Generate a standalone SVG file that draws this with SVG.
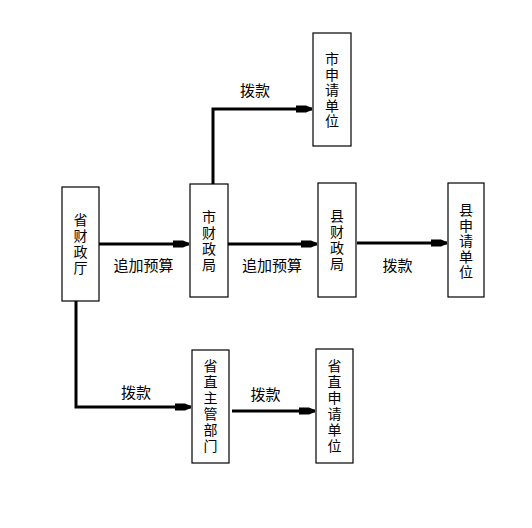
<svg xmlns="http://www.w3.org/2000/svg" width="532" height="528" viewBox="0 0 532 528">
<style>
.box{fill:#fff;stroke:#000;stroke-width:1.2}
.t{font-family:"Noto Sans CJK SC","Liberation Sans",sans-serif;font-size:15px;fill:#000;text-anchor:middle}
.v{font-family:"Noto Sans CJK SC","Liberation Sans",sans-serif;font-size:14px;fill:#000;text-anchor:middle}
.c{fill:none;stroke:#000;stroke-width:3}
</style>
<defs>
<marker id="ah" markerUnits="userSpaceOnUse" markerWidth="20" markerHeight="12" refX="16" refY="6" orient="auto" viewBox="0 0 20 12">
<path d="M0,2.5 L10,2.5 L16,5 L16,7 L10,9.5 L0,9.5 z" fill="#000"/>
</marker>
</defs>
<rect width="532" height="528" fill="#fff"/>
<g id="connectors">
<line class="c" x1="99" y1="244" x2="189" y2="244" marker-end="url(#ah)"/>
<line class="c" x1="228" y1="244" x2="317" y2="244" marker-end="url(#ah)"/>
<line class="c" x1="357" y1="243" x2="447" y2="243" marker-end="url(#ah)"/>
<polyline class="c" points="213,184 213,109 312,109" marker-end="url(#ah)"/>
<polyline class="c" points="76,301 76,407 191,407" marker-end="url(#ah)"/>
<line class="c" x1="232" y1="411" x2="315" y2="411" marker-end="url(#ah)"/>
<text class="t" x="143.5" y="271">追加预算</text>
<text class="t" x="272" y="271">追加预算</text>
<text class="t" x="255" y="96">拨款</text>
<text class="t" x="397.5" y="271">拨款</text>
<text class="t" x="136" y="398">拨款</text>
<text class="t" x="265.5" y="400">拨款</text>
</g>
<g id="n1">
<rect class="box" x="62" y="187" width="37" height="114"/>
<text class="v"><tspan x="80.5" y="225">省</tspan><tspan x="80.5" y="241">财</tspan><tspan x="80.5" y="257">政</tspan><tspan x="80.5" y="273">厅</tspan></text>
</g>
<g id="n2">
<rect class="box" x="190" y="184" width="38" height="113"/>
<text class="v"><tspan x="209" y="222">市</tspan><tspan x="209" y="238">财</tspan><tspan x="209" y="254">政</tspan><tspan x="209" y="270">局</tspan></text>
</g>
<g id="n3">
<rect class="box" x="313" y="33" width="38" height="113"/>
<text class="v"><tspan x="332" y="64">市</tspan><tspan x="332" y="79.5">申</tspan><tspan x="332" y="95">请</tspan><tspan x="332" y="110.5">单</tspan><tspan x="332" y="126">位</tspan></text>
</g>
<g id="n4">
<rect class="box" x="318" y="183" width="38" height="114"/>
<text class="v"><tspan x="337" y="221">县</tspan><tspan x="337" y="237">财</tspan><tspan x="337" y="253">政</tspan><tspan x="337" y="269">局</tspan></text>
</g>
<g id="n5">
<rect class="box" x="448" y="183" width="36" height="114"/>
<text class="v"><tspan x="466" y="215">县</tspan><tspan x="466" y="230.5">申</tspan><tspan x="466" y="246">请</tspan><tspan x="466" y="261.5">单</tspan><tspan x="466" y="277">位</tspan></text>
</g>
<g id="n6">
<rect class="box" x="192" y="350" width="37" height="113"/>
<text class="v"><tspan x="210.5" y="371">省</tspan><tspan x="210.5" y="387">直</tspan><tspan x="210.5" y="403">主</tspan><tspan x="210.5" y="419">管</tspan><tspan x="210.5" y="435">部</tspan><tspan x="210.5" y="451">门</tspan></text>
</g>
<g id="n7">
<rect class="box" x="316" y="349" width="37" height="114"/>
<text class="v"><tspan x="334.5" y="371">省</tspan><tspan x="334.5" y="387">直</tspan><tspan x="334.5" y="403">申</tspan><tspan x="334.5" y="419">请</tspan><tspan x="334.5" y="435">单</tspan><tspan x="334.5" y="451">位</tspan></text>
</g>
</svg>
